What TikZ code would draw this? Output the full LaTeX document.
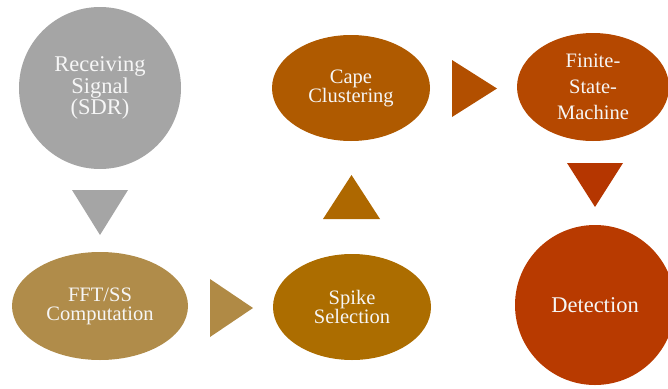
\documentclass[tikz,border=0pt]{standalone}
\usepackage{fontspec}
\setmainfont{Liberation Serif}
\usetikzlibrary{shapes.geometric}

\definecolor{cGray}{HTML}{A5A5A5}
\definecolor{cFFT}{HTML}{B08C4A}
\definecolor{cArrA}{HTML}{B08A45}
\definecolor{cSpike}{HTML}{AC6D00}
\definecolor{cArrB}{HTML}{AE6800}
\definecolor{cCape}{HTML}{AF5A00}
\definecolor{cArrC}{HTML}{B24F00}
\definecolor{cFSM}{HTML}{B54800}
\definecolor{cArrD}{HTML}{B53600}
\definecolor{cDet}{HTML}{B83A00}
\definecolor{cText}{HTML}{F6F6F6}

\tikzset{
  bubble/.style={circle, inner sep=0pt, text=cText, align=center,
    font=\fontsize{22.5}{20}\selectfont},
  oval/.style={ellipse, inner sep=0pt, text=cText, align=center,
    minimum width=158pt, minimum height=106pt,
    font=\fontsize{20.5}{19}\selectfont},
  chevron/.style={draw=none}
}

\begin{document}
\begin{tikzpicture}[x=1pt, y=-1pt]
\useasboundingbox (0,0) rectangle (668,388);

% process stages
\node[bubble, fill=cGray, minimum size=162pt] (sdr) at (100,88)
  {Receiving\\Signal\\(SDR)};
\node[oval, fill=cFFT, minimum width=176pt, minimum height=108pt] (fft) at (100,306)
  {FFT/SS\\Computation};
\node[oval, fill=cSpike] (spike) at (352,307) {Spike\\Selection};
\node[oval, fill=cCape] (cape) at (351,88) {Cape\\Clustering};
\node[oval, fill=cFSM, minimum width=152pt, minimum height=108pt,
  font=\fontsize{20.5}{26}\selectfont] (fsm) at (593,87)
  {Finite-\\State-\\Machine};
\node[bubble, fill=cDet, minimum size=160pt] (det) at (595,305) {Detection};

% triangular flow markers between stages
\fill[cGray] (72,190) -- (128,190) -- (100,235) -- cycle;
\fill[cArrA] (210,279) -- (253,308) -- (210,337) -- cycle;
\fill[cArrB] (323,219) -- (380,219) -- (351.5,175) -- cycle;
\fill[cArrC] (452,60) -- (497,88.5) -- (452,117) -- cycle;
\fill[cArrD] (567,163) -- (623,163) -- (595,207) -- cycle;
\end{tikzpicture}
\end{document}
